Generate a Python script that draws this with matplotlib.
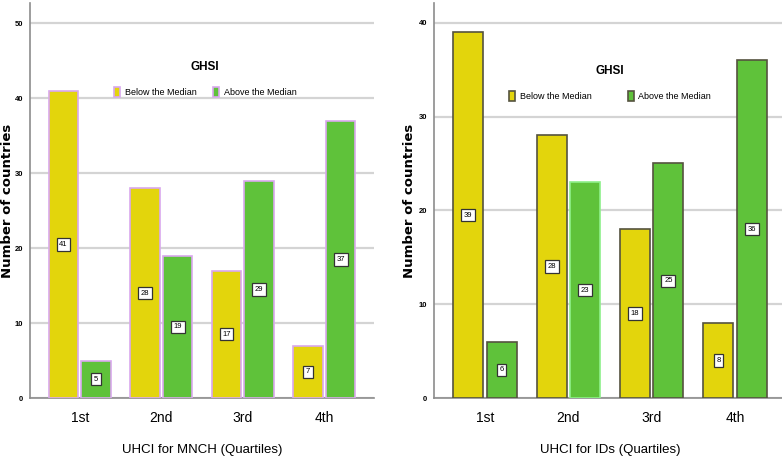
"""grouped bar charts: GHSI below/above median by UHCI quartile"""
import numpy as np
import matplotlib.pyplot as plt
from matplotlib.patches import Patch

quartiles = ["1st", "2nd", "3rd", "4th"]
mnch_below = [41, 28, 17, 7]
mnch_above = [5, 19, 29, 37]
ids_below = [39, 28, 18, 8]
ids_above = [6, 23, 25, 36]
series_names = ["Below the Median", "Above the Median"]

YELLOW = "#e3d50c"
GREEN = "#5fc23a"

plt.rcParams["font.family"] = ["Liberation Sans Narrow", "Liberation Sans", "DejaVu Sans"]

fig = plt.figure(figsize=(7.82, 4.58), dpi=100)
ax1 = fig.add_axes([0.0384, 0.131, 0.440, 0.8624])
ax2 = fig.add_axes([0.555, 0.131, 0.450, 0.8624])


def draw_panel(ax, below, above, xlabel, ymax, yticks, edges, leg_xy, colspace, ylab_x):
    x = np.arange(len(quartiles))
    w = 0.36
    b1 = ax.bar(x - 0.2, below, w, color=YELLOW, edgecolor=edges[0], linewidth=1.2, zorder=3)
    b2 = ax.bar(x + 0.2, above, w, color=GREEN, edgecolor=edges[1], linewidth=1.2, zorder=3)
    for bars, vals in [(b1, below), (b2, above)]:
        for bar, v in zip(bars, vals):
            ax.text(bar.get_x() + bar.get_width() / 2, v / 2, str(v), ha="center", va="center",
                    fontsize=5.5, zorder=4,
                    bbox=dict(boxstyle="square,pad=0.35", fc="white", ec="#333333", lw=0.9))
    if len(edges) > 2:
        b2[1].set_edgecolor(edges[2])
    ax.set_xlim(-0.61, 3.61)
    ax.set_ylim(0, ymax)
    ax.set_yticks(yticks)
    ax.set_yticklabels([str(t) for t in yticks], fontsize=5.5, fontweight="bold")
    ax.set_xticks(x)
    ax.set_xticklabels(quartiles, fontsize=10)
    ax.tick_params(axis="x", length=0, pad=9)
    ax.tick_params(axis="y", length=0, pad=5)
    ax.yaxis.grid(True, color="#d4d4d4", linewidth=1.6, zorder=0)
    ax.set_axisbelow(True)
    for s in ["top", "right"]:
        ax.spines[s].set_visible(False)
    for s in ["left", "bottom"]:
        ax.spines[s].set_color("#8c8c8c")
        ax.spines[s].set_linewidth(1.2)
    ax.set_xlabel(xlabel, fontsize=9.5, labelpad=14)
    ax.set_ylabel("Number of countries", fontsize=9.5, fontweight="bold",
                  family="DejaVu Sans")
    ax.yaxis.set_label_coords(ylab_x, 0.5)
    handles = [Patch(fc=YELLOW, ec=edges[0], lw=1.2), Patch(fc=GREEN, ec=edges[1], lw=1.2)]
    leg = ax.legend(handles, series_names, title="GHSI", ncol=2, frameon=False,
                    loc="upper center", bbox_to_anchor=leg_xy, fontsize=6.5,
                    title_fontsize=8.5, handlelength=0.7, handleheight=1.3,
                    columnspacing=colspace, handletextpad=0.5, borderaxespad=0)
    leg.get_title().set_fontweight("bold")
    leg._legend_box.sep = 10
    leg.set_zorder(5)


draw_panel(ax1, mnch_below, mnch_above, "UHCI for MNCH (Quartiles)", 52.7,
           [0, 10, 20, 30, 40, 50], ["#d9a8ee", "#d9a8ee"], (0.509, 0.862), 1.8, -0.047)
draw_panel(ax2, ids_below, ids_above, "UHCI for IDs (Quartiles)", 42.1,
           [0, 10, 20, 30, 40], ["#55533f", "#55533f", "#8ef08a"], (0.5, 0.851), 4.0, -0.051)

fig.savefig("out.png", dpi=100)
